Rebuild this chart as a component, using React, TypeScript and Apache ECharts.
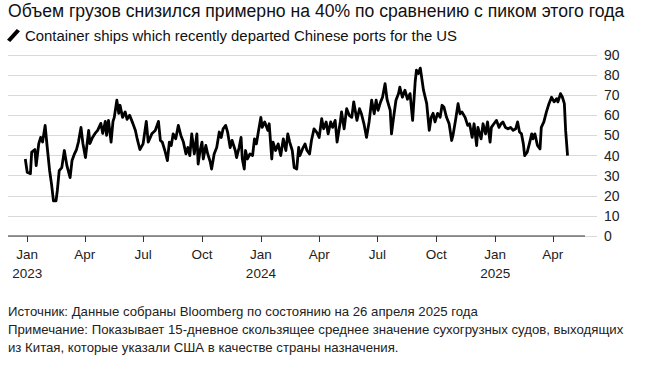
import React, { useEffect, useRef } from "react";
import * as echarts from "echarts";

const titleText = "Объем грузов снизился примерно на 40% по сравнению с пиком этого года";
const seriesName = "Container ships which recently departed Chinese ports for the US";
const footnotes = [
  "Источник: Данные собраны Bloomberg по состоянию на 26 апреля 2025 года",
  "Примечание: Показывает 15-дневное скользящее среднее значение сухогрузных судов, выходящих",
  "из Китая, которые указали США в качестве страны назначения.",
];

const startDate = "2023-01-01";
const axisMinDate = "2022-12-02";
const axisMaxDate = "2025-06-09";

// days since startDate
const dayOffsets = [
  -3, 0, 5, 7, 12, 14, 18, 21, 24, 28, 31, 35, 38, 41, 45, 47, 50, 54, 58, 62, 67, 70, 74, 77, 80, 84, 87, 91, 96, 98,
  102, 106, 110, 115, 118, 122, 124, 127, 131, 134, 136, 140, 143, 145, 149, 153, 156, 160, 165, 169, 172, 176, 181,
  186, 189, 195, 200, 205, 208,
  211, 215, 219, 222, 225, 228, 232, 236, 240, 244, 248, 251, 254, 257, 261, 265, 267, 270, 273, 275, 279, 282, 286,
  288, 292, 296, 300, 303, 306, 310, 313, 317, 320, 325, 327, 331, 334, 336, 339, 341, 344, 348, 352, 355, 358, 361,
  365, 367, 371, 376, 378, 382, 384, 388, 392, 396, 400, 404, 407, 410, 414, 417,
  421, 424, 426, 430, 434, 437, 441, 444, 448, 452, 456, 460, 463, 467, 470, 474, 477, 481, 484, 489, 491, 495, 499,
  503, 507, 510, 515, 519, 522, 526, 530, 534, 538, 542, 545, 548, 552, 555, 559, 562, 567, 569, 572, 576, 580, 582,
  586, 590, 594, 598, 602, 606, 608, 611, 614, 619, 624, 628,
  631, 634, 637, 641, 645, 648, 651, 655, 659, 663, 665, 669, 673, 676, 679, 684, 688, 691, 695, 698, 702, 704, 709,
  712, 716, 719, 723, 725, 729, 733, 737, 740, 743, 747, 751, 755, 759, 763, 766, 769, 772, 775, 777, 781, 785, 788,
  790, 793, 797, 801, 803, 807, 811, 815, 819, 823, 827, 829, 833, 836, 839, 841, 844,
];

const shipCounts = [
  38.3, 31.7, 31, 41.7, 43, 35, 45.8, 49, 46.7, 55, 45, 32.5, 25.8, 17.5, 17.5, 22.5, 32.5, 34, 42.5, 35, 29, 37.5, 41,
  43, 46.7, 54, 46, 39, 52.5, 46, 49, 51, 52.5, 56, 51, 57, 50, 57.5, 46.7, 57, 59, 67.5, 61, 65, 59, 61.7, 58, 60, 56,
  52.5, 48, 43, 45.8, 57, 46.7, 51, 52.5, 57, 47.5,
  46.7, 42.5, 37.5, 46.7, 45, 50.8, 48.3, 55, 50, 46.7, 40.8, 44, 40, 50.8, 40.8, 50.8, 35.8, 42.5, 46.7, 38.3, 45,
  40.8, 36.7, 33.3, 40.8, 44, 51.7, 49, 53.3, 55, 51.7, 44, 47.5, 42.5, 39, 44, 49, 38.3, 33.3, 42.5, 38.3, 40.8, 40,
  48.3, 45.8, 51.7, 59, 54, 56.7, 52.5, 55.8, 38.3, 46.7, 42.5, 45.8, 40, 48.3, 42.5, 50.8, 46.7, 42.5, 34,
  33.3, 44, 40, 43.3, 45.8, 42.5, 40.8, 47.5, 53.3, 51.7, 49, 58.3, 53.3, 56.7, 50.8, 56.7, 54, 57.5, 46.7, 56.7, 61.7,
  53.3, 63.3, 60, 59, 66.7, 57.5, 63.3, 60.8, 55.8, 49, 56.7, 67.5, 60.8, 67.5, 62.5, 66.7, 69, 75.8, 68, 62.5, 50.8,
  58.3, 67.5, 70.8, 74, 69, 72.5, 68, 70.8, 57.5, 76.7, 82.5, 80.8, 83.5, 72.5, 65.8, 52.5,
  59, 61, 56.7, 61, 59, 65, 64, 59, 55.8, 47.5, 50, 57.5, 65.8, 60.8, 61.7, 59, 55, 55.8, 49, 55.8, 45, 54, 48.3, 55.8,
  50.8, 56.7, 46.7, 54, 55.8, 57.5, 54, 55.8, 56.7, 54, 53.3, 54, 52.5, 53.3, 56.7, 51.7, 50.8, 45.8, 40, 41.7, 46.7,
  50.8, 48.3, 50.8, 45, 43.3, 54, 56.7, 61.7, 65.8, 69, 66.7, 68.3, 66.7, 70.8, 69, 65.8, 52.5, 40,
];

const tickDates = [
  "2023-01-01", "2023-04-01", "2023-07-01", "2023-10-01",
  "2024-01-01", "2024-04-01", "2024-07-01", "2024-10-01",
  "2025-01-01", "2025-04-01",
];
const monthLabels = ["Jan", "Feb", "Mar", "Apr", "May", "Jun", "Jul", "Aug", "Sep", "Oct", "Nov", "Dec"];

const yMin = 0;
const yMax = 90;
const yStep = 10;

const FONT = '"Liberation Sans", Arial, Helvetica, sans-serif';
const DAY = 86400000;

export default function App() {
  const ref = useRef<HTMLDivElement>(null);

  useEffect(() => {
    document.body.style.margin = "0";
    if (!ref.current) return;
    const chart = echarts.init(ref.current, null, { renderer: "svg" });
    const t0 = Date.parse(startDate);
    const n = Math.min(dayOffsets.length, shipCounts.length);
    const data: [number, number][] = [];
    for (let i = 0; i < n; i++) data.push([t0 + dayOffsets[i] * DAY, shipCounts[i]]);
    const ticks = tickDates.map((d) => Date.parse(d));

    chart.setOption({
      animation: false,
      textStyle: { fontFamily: FONT },
      title: {
        text: titleText,
        left: 8,
        top: 2,
        padding: 0,
        textStyle: { fontSize: 17.6, fontWeight: "normal", color: "#111", fontFamily: FONT },
      },
      legend: {
        left: 7,
        top: 28,
        padding: 0,
        itemWidth: 13,
        itemHeight: 13,
        selectedMode: false,
        textStyle: { fontSize: 14.9, color: "#111", fontFamily: FONT },
        data: [{ name: seriesName, icon: "path://M0,11 L9,1 L12,3 L3,13 Z" }],
      },
      grid: { left: 8, right: 48, top: 55, bottom: 149, containLabel: false },
      xAxis: {
        type: "value",
        min: Date.parse(axisMinDate),
        max: Date.parse(axisMaxDate),
        axisLine: { show: false },
        axisTick: { show: true, length: 6, lineStyle: { color: "#333", width: 1 }, customValues: ticks },
        axisLabel: {
          customValues: ticks,
          margin: 9,
          fontSize: 13.5,
          lineHeight: 19,
          color: "#222",
          fontFamily: FONT,
          formatter: (v: number) => {
            const d = new Date(v);
            const m = d.getUTCMonth();
            return m === 0 ? monthLabels[m] + "\n" + d.getUTCFullYear() : monthLabels[m];
          },
        },
        splitLine: { show: false },
      },
      yAxis: {
        type: "value",
        position: "right",
        min: yMin,
        max: yMax,
        interval: yStep,
        axisLine: { show: false },
        axisTick: { show: false },
        axisLabel: { margin: 7, fontSize: 14, color: "#222", fontFamily: FONT },
        splitLine: { lineStyle: { color: "#d9d9d9", width: 1 } },
      },
      graphic: [
        {
          type: "line",
          shape: { x1: 8, y1: 236, x2: 585, y2: 236 },
          style: { stroke: "#333", lineWidth: 1 },
          z: 10,
        },
        ...footnotes.map((t, i) => ({
          type: "text",
          left: 8,
          top: 305 + i * 18,
          style: { text: t, font: `13.2px ${FONT}`, fill: "#222" },
        })),
      ],
      series: [
        {
          type: "line",
          name: seriesName,
          data,
          showSymbol: false,
          lineStyle: { color: "#000", width: 2.8, join: "round" },
          itemStyle: { color: "#000" },
          z: 20,
        },
      ],
    });
    return () => chart.dispose();
  }, []);

  return <div ref={ref} style={{ width: 645, height: 385 }} />;
}
